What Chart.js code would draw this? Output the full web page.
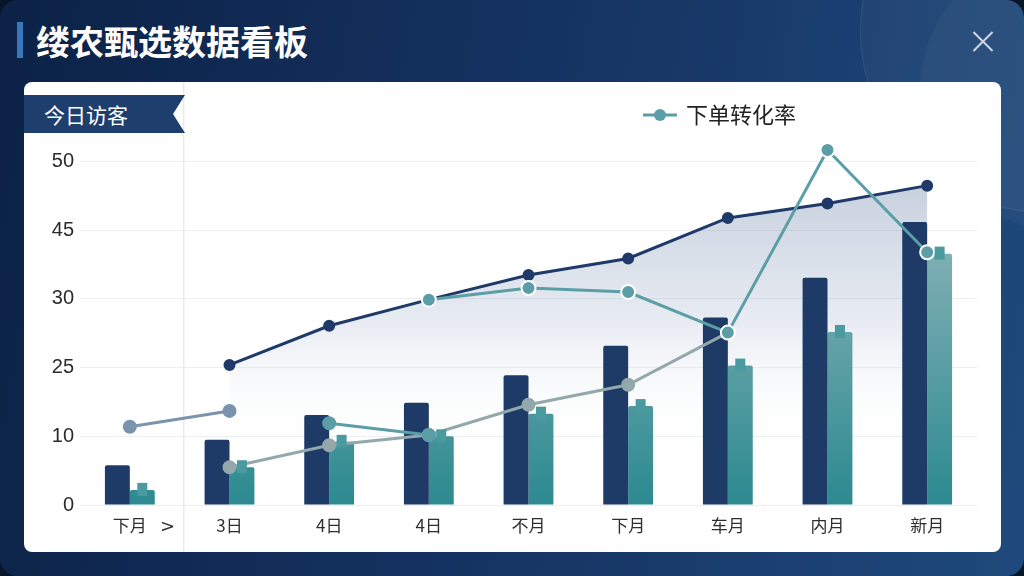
<!DOCTYPE html>
<html><head><meta charset="utf-8">
<script src="https://cdn.jsdelivr.net/npm/chart.js@4.4.1/dist/chart.umd.min.js"></script>
<style>
html,body{margin:0;padding:0;width:1024px;height:576px;overflow:hidden;background:#08162c;}
#panel{position:absolute;left:0;top:0;width:1024px;height:576px;border-radius:18px;overflow:hidden;
 background:linear-gradient(100deg,#0c2246 0%,#14315f 45%,#1f497c 100%);}
.deco{position:absolute;border-radius:50%;}
#accent{position:absolute;left:17px;top:22px;width:6px;height:36px;background:#3a78bd;}
#title{position:absolute;left:36px;top:18px;font:bold 34px "Noto Sans CJK SC",sans-serif;color:#fff;line-height:46px;}
.xl{position:absolute;left:982px;top:28px;width:2px;height:27px;background:#cdd5e0;}
#card{position:absolute;left:24px;top:82px;width:977px;height:470px;background:#fff;border-radius:8px;overflow:hidden;}
#chartWrap{position:absolute;left:0;top:0;width:977px;height:470px;}
#ribbon{position:absolute;left:0;top:13px;width:161px;height:38px;background:#1e3f6e;
 clip-path:polygon(0 0,100% 0,calc(100% - 12px) 50%,100% 100%,0 100%);
 color:#fff;font:21px "Noto Sans CJK SC",sans-serif;line-height:38px;padding-left:20px;box-sizing:border-box;}
#more{position:absolute;left:136px;top:433px;font:18px "DejaVu Sans",sans-serif;color:#333;line-height:22px;}
</style></head>
<body>
<div id="panel">
 <div class="deco" style="left:860px;top:-150px;width:360px;height:360px;background:rgba(255,255,255,0.035);border:1px solid rgba(255,255,255,0.07)"></div>
 <div class="deco" style="left:920px;top:-50px;width:280px;height:280px;background:rgba(255,255,255,0.035);"></div>
 <div id="accent"></div>
 <div id="title">缕农甄选数据看板</div>
 <div class="xl" style="transform:rotate(45deg)"></div>
 <div class="xl" style="transform:rotate(-45deg)"></div>
 <div id="card">
  <div id="chartWrap"><canvas id="c" width="977" height="470"></canvas></div>
  <div id="ribbon">今日访客</div>
  <div id="more">&gt;</div>
 </div>
</div>
<script>
// ---- data (values in axis-step units; tick labels below) ----
const categories = ['下月','3日','4日','4日','不月','下月','车月','内月','新月'];
const yTickLabels = ['0','10','25','30','45','50'];
const visitorBars = [0.58,0.95,1.31,1.49,1.89,2.32,2.73,3.31,4.12];
const orderBars = [0.22,0.55,0.92,1.00,1.33,1.44,2.03,2.52,3.66];
const visitorLine = [null,2.04,2.61,2.99,3.35,3.59,4.18,4.39,4.65];
const conversionLine = [null,null,null,2.99,3.16,3.10,2.51,5.17,3.68];
const conversionShort = [null,null,1.19,1.02,null,null,null,null,null];
const trendLine = [null,0.55,0.87,1.02,1.46,1.75,2.51,null,null];
const prevLine = [1.14,1.37,null,null,null,null,null,null,null];
const legendName = '下单转化率';

// legend marker image (line + dot)
const mk = document.createElement('canvas');
mk.width = 34; mk.height = 14;
(function(){const g=mk.getContext('2d');g.strokeStyle='#5b9ea7';g.lineWidth=3;g.beginPath();g.moveTo(0,7);g.lineTo(34,7);g.stroke();
 g.fillStyle='#5b9ea7';g.beginPath();g.arc(17,7,6,0,Math.PI*2);g.fill();})();

function areaGrad(ctx){
  const ch = ctx.chart; const a = ch.chartArea; if(!a) return 'rgba(0,0,0,0)';
  const y = ch.scales.y;
  const g = ch.ctx.createLinearGradient(0,y.getPixelForValue(4.7),0,y.getPixelForValue(0.8));
  g.addColorStop(0,'rgba(120,142,175,0.42)');
  g.addColorStop(0.5,'rgba(165,180,205,0.28)');
  g.addColorStop(1,'rgba(255,255,255,0)');
  return g;
}
function tealGrad(ctx){
  const ch = ctx.chart; const a = ch.chartArea; if(!a) return '#3a9296';
  const g = ch.ctx.createLinearGradient(0,a.top,0,a.bottom);
  g.addColorStop(0,'#9cc0c3');
  g.addColorStop(0.4,'#74aaae');
  g.addColorStop(1,'#2b8a90');
  return g;
}

const extras = {
  id:'extras',
  afterLayout(chart){
    const l = chart.legend; if(!l) return;
    l.left = 611; l.top = 12;
  },
  beforeDatasetsDraw(chart){
    const c = chart.ctx, x = chart.scales.x;
    const px = (x.getPixelForValue(0)+x.getPixelForValue(1))/2 + 4;
    c.save(); c.strokeStyle='#e7eaee'; c.lineWidth=1.5;
    c.beginPath(); c.moveTo(px,0); c.lineTo(px,chart.height); c.stroke(); c.restore();
  },
  afterDatasetsDraw(chart){
    const c = chart.ctx; const meta = chart.getDatasetMeta(6);
    c.save(); c.fillStyle='#4a9aa0';
    meta.data.forEach(el=>{ c.fillRect(el.x-5, el.y-7, 10, 13); });
    c.restore();
  }
};

const lineBase = {type:'line', borderWidth:3, tension:0, fill:false, spanGaps:false, pointBorderWidth:2};

new Chart(document.getElementById('c'), {
  type:'bar',
  data:{labels:categories, datasets:[
    Object.assign({}, lineBase, {label:'访客趋势', data:visitorLine, borderColor:'#1f3a68', pointBackgroundColor:'#1f3a68', pointBorderColor:'#1f3a68', pointRadius:5, fill:'origin', backgroundColor:areaGrad, order:3}),
    Object.assign({}, lineBase, {label:legendName, data:conversionLine, borderColor:'#5b9ea7', pointBackgroundColor:'#5b9ea7', pointBorderColor:'#ffffff', pointRadius:7, order:1}),
    Object.assign({}, lineBase, {label:'转化率-2', data:conversionShort, borderColor:'#5b9ea7', pointBackgroundColor:'#5b9ea7', pointBorderColor:'#5b9ea7', pointRadius:6, order:2}),
    Object.assign({}, lineBase, {label:'趋势', data:trendLine, borderColor:'#93a8ab', pointBackgroundColor:'#93a8ab', pointBorderColor:'#93a8ab', pointRadius:6, order:2}),
    Object.assign({}, lineBase, {label:'上期', data:prevLine, borderColor:'#7b93ad', pointBackgroundColor:'#7b93ad', pointBorderColor:'#7b93ad', pointRadius:6, order:2}),
    {type:'bar', label:'访客', data:visitorBars, backgroundColor:'#1e3a67', borderRadius:{topLeft:2,topRight:2}, borderSkipped:'bottom', categoryPercentage:0.5, barPercentage:1.0, order:10},
    {type:'bar', label:'下单', data:orderBars, backgroundColor:tealGrad, borderRadius:{topLeft:2,topRight:2}, borderSkipped:'bottom', categoryPercentage:0.5, barPercentage:1.0, order:10}
  ]},
  options:{
    responsive:false, animation:false,
    layout:{padding:{left:0,right:24,top:59,bottom:0}},
    plugins:{
      tooltip:{enabled:false},
      filler:{drawTime:'beforeDatasetsDraw'},
      legend:{
        position:'chartArea', align:'start',
        labels:{
          usePointStyle:true, pointStyleWidth:30, padding:10,
          font:{family:'"Noto Sans CJK SC", sans-serif', size:22}, color:'#222',
          filter:(item)=>item.text===legendName,
          generateLabels:(chart)=>{
            const items = Chart.defaults.plugins.legend.labels.generateLabels(chart);
            items.forEach(i=>{i.pointStyle = mk;});
            return items;
          }
        }
      }
    },
    scales:{
      x:{
        grid:{display:false}, border:{display:false},
        ticks:{font:{family:'"Noto Sans CJK SC", sans-serif', size:17}, color:'#2e2e2e', padding:2, maxRotation:0},
        afterFit:(s)=>{s.height = 47;}
      },
      y:{
        min:0, max:5.3,
        afterBuildTicks:(s)=>{s.ticks = yTickLabels.map((t,i)=>({value:i}));},
        grid:{color:'#eceef1', drawTicks:false, lineWidth:1}, border:{display:false},
        ticks:{font:{family:'"Liberation Sans", sans-serif', size:20}, color:'#2b2b2b', padding:6,
          callback:(v)=>yTickLabels[v]},
        afterFit:(s)=>{s.width = 56;}
      }
    }
  },
  plugins:[extras]
});
</script>
</body></html>
